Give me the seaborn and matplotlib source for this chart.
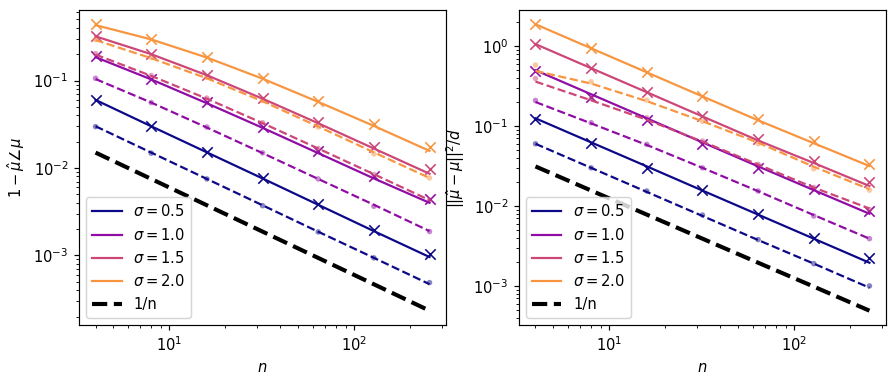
import matplotlib
matplotlib.use("Agg")
import matplotlib.pyplot as plt
import seaborn as sns

plt.rcParams["font.family"] = ["DejaVu Sans"]

N = [4, 8, 16, 32, 64, 128, 256]
SIGMAS = [0.5, 1.0, 1.5, 2.0]
COLORS = ["#0d0887", "#8f0da4", "#cc4778", "#f89540"]

# ── left panel: 1 - angle ──────────────────────────────────────────────
ang_solid_pts = {
    0.5: [0.0598, 0.030, 0.0152, 0.0077, 0.00385, 0.00195, 0.00105],
    1.0: [0.189, 0.104, 0.057, 0.0297, 0.0156, 0.0082, 0.00443],
    1.5: [0.322, 0.203, 0.117, 0.063, 0.034, 0.0176, 0.0097],
    2.0: [0.44, 0.30, 0.186, 0.107, 0.0588, 0.0316, 0.0172],
}
ang_solid_fit = {
    0.5: [0.060, 0.030, 0.0151, 0.0076, 0.0038, 0.0019, 0.00096],
    1.0: [0.185, 0.103, 0.055, 0.0288, 0.0148, 0.0076, 0.0040],
    1.5: [0.32, 0.20, 0.115, 0.062, 0.0325, 0.0167, 0.0086],
    2.0: [0.43, 0.295, 0.183, 0.105, 0.057, 0.0303, 0.0157],
}
ang_dash_pts = {
    0.5: [0.0297, 0.0148, 0.0075, 0.00371, 0.00186, 0.00094, 0.00049],
    1.0: [0.106, 0.056, 0.0294, 0.0149, 0.0075, 0.00365, 0.00188],
    1.5: [0.203, 0.114, 0.063, 0.033, 0.0167, 0.0084, 0.0043],
    2.0: [0.294, 0.183, 0.109, 0.059, 0.0294, 0.0145, 0.0077],
}
ang_dash_fit = {
    0.5: [0.030, 0.015, 0.0075, 0.00375, 0.00187, 0.00094, 0.00047],
    1.0: [0.104, 0.056, 0.029, 0.0148, 0.0075, 0.0038, 0.0019],
    1.5: [0.198, 0.113, 0.062, 0.0326, 0.0167, 0.0085, 0.0043],
    2.0: [0.29, 0.18, 0.106, 0.058, 0.0298, 0.0151, 0.0077],
}
ang_ref = [0.015, 0.0075, 0.00375, 0.001875, 0.000938, 0.000469, 0.000234]

# ── right panel: squared error / d ─────────────────────────────────────
mse_solid_pts = {
    0.5: [0.1235, 0.0607, 0.030, 0.0158, 0.0080, 0.0040, 0.00223],
    1.0: [0.487, 0.233, 0.119, 0.059, 0.030, 0.0162, 0.00866],
    1.5: [1.05, 0.526, 0.269, 0.133, 0.0695, 0.0365, 0.0202],
    2.0: [1.87, 0.935, 0.473, 0.237, 0.121, 0.065, 0.034],
}
mse_solid_fit = {
    0.5: [0.125, 0.0625, 0.0313, 0.0156, 0.0078, 0.0039, 0.00195],
    1.0: [0.50, 0.25, 0.125, 0.0625, 0.0313, 0.0158, 0.0080],
    1.5: [1.06, 0.53, 0.265, 0.132, 0.066, 0.0345, 0.0178],
    2.0: [1.88, 0.94, 0.47, 0.235, 0.118, 0.061, 0.0316],
}
mse_dash_pts = {
    0.5: [0.060, 0.030, 0.0154, 0.0077, 0.0038, 0.0019, 0.0010],
    1.0: [0.209, 0.110, 0.059, 0.030, 0.0154, 0.0075, 0.0039],
    1.5: [0.394, 0.222, 0.127, 0.065, 0.0332, 0.0170, 0.0090],
    2.0: [0.579, 0.358, 0.211, 0.115, 0.060, 0.0293, 0.0158],
}
mse_dash_fit = {
    0.5: [0.060, 0.030, 0.015, 0.0075, 0.00375, 0.0019, 0.00095],
    1.0: [0.20, 0.108, 0.058, 0.030, 0.0153, 0.0077, 0.0039],
    1.5: [0.36, 0.21, 0.12, 0.064, 0.033, 0.017, 0.0093],
    2.0: [0.49, 0.34, 0.205, 0.115, 0.062, 0.031, 0.0162],
}
mse_ref = [0.03125, 0.0156, 0.0078, 0.0039, 0.00195, 0.00098, 0.00049]

DPI = 106


def draw_panel(ax, solid_pts, solid_fit, dash_pts, dash_fit, ref, ylabel):
    for s, c in zip(SIGMAS, COLORS):
        sns.lineplot(x=N, y=solid_fit[s], ax=ax, color=c, lw=1.5,
                     label=rf"$\sigma = {s}$", legend=False)
        sns.lineplot(x=N, y=dash_fit[s], ax=ax, color=c, lw=1.5, ls="--",
                     legend=False)
        sns.scatterplot(x=N, y=solid_pts[s], ax=ax, color=c, marker="x",
                        s=50, linewidth=1.1, legend=False)
        sns.scatterplot(x=N, y=dash_pts[s], ax=ax, color=c, marker="o",
                        s=14, alpha=0.5, edgecolor="none", legend=False)
    sns.lineplot(x=N, y=ref, ax=ax, color="black", lw=2.8, ls="--",
                 label="1/n", legend=False)
    ax.set_xscale("log"); ax.set_yscale("log")
    ax.set_xlabel(r"$n$")
    ax.set_ylabel(ylabel)
    ax.legend(loc="lower left")


fig = plt.figure(figsize=(896 / DPI, 381 / DPI), dpi=DPI)
ax1 = fig.add_axes([0.088, 0.147, 0.410, 0.827])
ax2 = fig.add_axes([0.579, 0.147, 0.410, 0.827])

draw_panel(ax1, ang_solid_pts, ang_solid_fit, ang_dash_pts, ang_dash_fit,
           ang_ref, r"$1 - \hat{\mu}\angle\mu$")
draw_panel(ax2, mse_solid_pts, mse_solid_fit, mse_dash_pts, mse_dash_fit,
           mse_ref, r"$||\hat{\mu} - \mu||^2/d$")

fig.savefig("out.png", dpi=DPI)
